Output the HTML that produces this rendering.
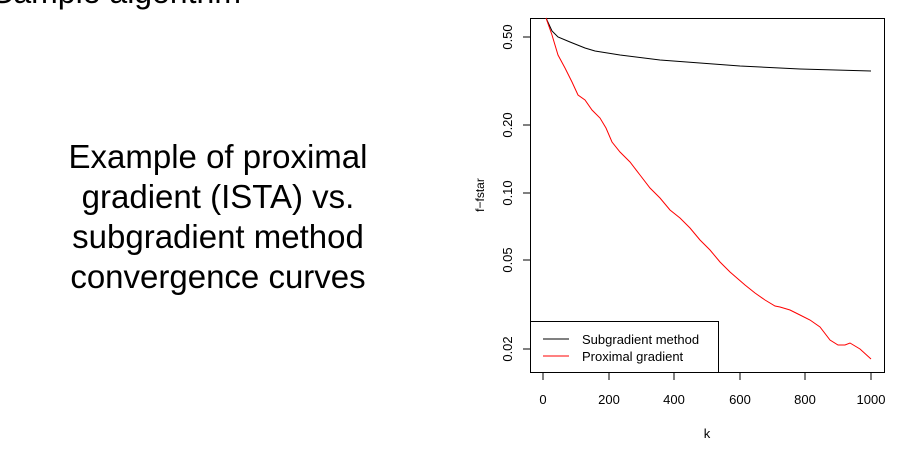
<!DOCTYPE html>
<html><head><style>
body{margin:0;width:904px;height:451px;background:#fff;overflow:hidden;position:relative;font-family:"Liberation Sans",sans-serif}
.t{position:absolute;font-size:33px;color:#000;text-align:center;width:440px;left:-2px;line-height:40px}
</style></head><body>
<div style="position:absolute;left:-8px;top:-26px;font-size:32px">Sample algorithm</div>
<div class="t" style="top:137px">Example of proximal<br>gradient (ISTA) vs.<br>subgradient method<br>convergence curves</div>
<svg width="904" height="451" style="position:absolute;left:0;top:0" font-family="Liberation Sans, sans-serif" font-size="13">
<rect x="530.5" y="18.5" width="354" height="354" fill="none" stroke="#000"/>
<g stroke="#000">
<line x1="543" y1="373" x2="543" y2="380"/><line x1="609" y1="373" x2="609" y2="380"/><line x1="674" y1="373" x2="674" y2="380"/><line x1="740" y1="373" x2="740" y2="380"/><line x1="805" y1="373" x2="805" y2="380"/><line x1="871" y1="373" x2="871" y2="380"/>
<line x1="523" y1="37" x2="530" y2="37"/><line x1="523" y1="125" x2="530" y2="125"/><line x1="523" y1="193" x2="530" y2="193"/><line x1="523" y1="260" x2="530" y2="260"/><line x1="523" y1="349" x2="530" y2="349"/>
</g>
<g text-anchor="middle">
<text x="543" y="404">0</text><text x="609" y="404">200</text><text x="674" y="404">400</text><text x="740" y="404">600</text><text x="805" y="404">800</text><text x="871" y="404">1000</text>
<text x="707" y="438">k</text>
<text transform="translate(512,37) rotate(-90)">0.50</text>
<text transform="translate(512,125) rotate(-90)">0.20</text>
<text transform="translate(512,193) rotate(-90)">0.10</text>
<text transform="translate(512,260) rotate(-90)">0.05</text>
<text transform="translate(512,349) rotate(-90)">0.02</text>
<text transform="translate(484,195) rotate(-90)" font-size="12">f−fstar</text>
</g>
<polyline fill="none" stroke="#000" points="546,18 552,31 558,37 570,42 585,48 595,51 620,55 660,60 700,63 740,66 800,69 871,71"/>
<polyline fill="none" stroke="#f00" points="546,18 552,35 558,55 565,68 572,82 578,95 585,100 592,110 600,118 606,128 612,142 620,152 630,162 640,175 650,188 660,198 670,210 680,218 690,228 700,240 710,250 720,262 730,272 745,285 755,293 765,300 775,306 780,307 790,310 800,315 810,320 820,327 830,340 838,345 845,345 850,343 860,349 871,359"/>
<rect x="530.5" y="321.5" width="188" height="51" fill="#fff" stroke="#000"/>
<line x1="543" y1="339" x2="569" y2="339" stroke="#000"/>
<line x1="543" y1="356" x2="569" y2="356" stroke="#f00"/>
<text x="582" y="344">Subgradient method</text>
<text x="582" y="361">Proximal gradient</text>
</svg>
</body></html>
